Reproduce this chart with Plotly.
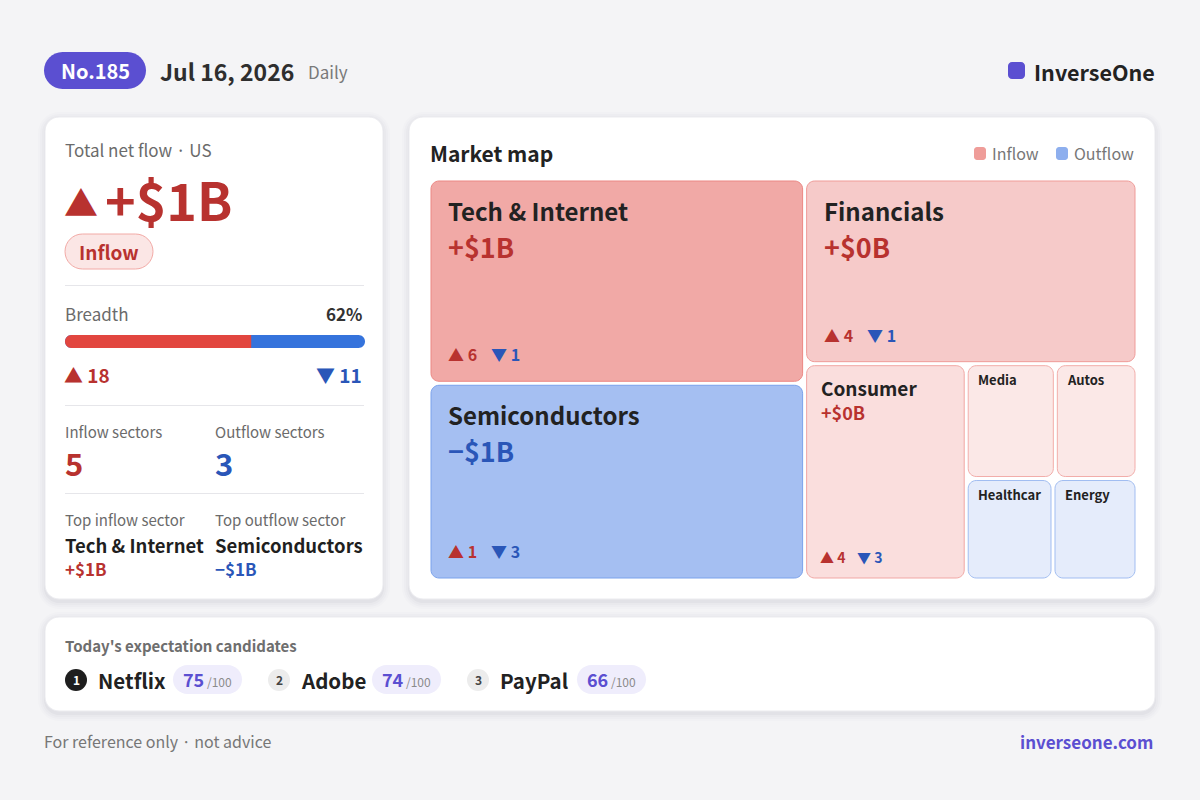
import plotly.graph_objects as go

# ---------------- data ----------------
issue_no = 185
report_date = "Jul 16, 2026"
report_freq = "Daily"
brand = "InverseOne"
brand_site = "inverseone.com"
region = "US"

sectors = ["Tech & Internet", "Semiconductors", "Financials", "Consumer",
           "Media", "Autos", "Healthcare", "Energy"]
tile_size = [27.0, 26.0, 21.6, 12.3, 3.6, 3.3, 3.1, 3.0]
net_flow_b = [1.45, -1.20, 0.45, 0.10, 0.01, 0.01, -0.01, -0.01]
up_counts = [6, 1, 4, 4, 1, 1, 1, 0]
down_counts = [1, 3, 1, 3, 1, 0, 1, 1]

candidates = ["Netflix", "Adobe", "PayPal"]
candidate_scores = [75, 74, 66]
score_max = 100

# ---------------- style ----------------
FONT = "Noto Sans CJK KR, Noto Sans, sans-serif"
BG = "#f4f4f6"
PURPLE = "#5b4fd1"
UP_TXT = "#b8322f"
DN_TXT = "#2a56b8"
UP_BAR = "#e2463f"
DN_BAR = "#3573dc"
MUTED = "#6b6b6b"
DARK = "#222222"
IN_BASE = (226, 76, 70)
OUT_BASE = (50, 110, 225)

shapes = []
annos = []


def rrect(x0, y0, x1, y1, r):
    r = min(r, (x1 - x0) / 2, (y1 - y0) / 2)
    k = 0.5523 * r
    return (f"M{x0+r},{y0} L{x1-r},{y0} C{x1-r+k},{y0} {x1},{y0+r-k} {x1},{y0+r} "
            f"L{x1},{y1-r} C{x1},{y1-r+k} {x1-r+k},{y1} {x1-r},{y1} "
            f"L{x0+r},{y1} C{x0+r-k},{y1} {x0},{y1-r+k} {x0},{y1-r} "
            f"L{x0},{y0+r} C{x0},{y0+r-k} {x0+r-k},{y0} {x0+r},{y0} Z")


def box(x0, y0, x1, y1, r, fill, line=None, lw=1):
    shapes.append(dict(type="path", path=rrect(x0, y0, x1, y1, r), xref="x", yref="y",
                       fillcolor=fill, layer="below",
                       line=dict(color=line if line else "rgba(0,0,0,0)", width=lw if line else 0)))


def card(x0, y0, x1, y1, r=14):
    for d, a in [(7, 0.010), (5, 0.014), (3, 0.020), (1, 0.030)]:
        box(x0 - d, y0 - d + 2, x1 + d, y1 + d + 3, r + d, f"rgba(30,30,60,{a})")
    box(x0, y0, x1, y1, r, "#ffffff", "#ebebef", 1)


def hline(x0, x1, y, color="#e6e6ea"):
    shapes.append(dict(type="line", x0=x0, x1=x1, y0=y, y1=y, xref="x", yref="y",
                       line=dict(color=color, width=1), layer="below"))


def txt(x, y, s, size, color, bold=False, anchor="left"):
    annos.append(dict(x=x, y=y - 1, xref="x", yref="y", text=s, showarrow=False,
                      xanchor=anchor, yanchor="middle",
                      font=dict(family=FONT, size=size, color=color, weight=700 if bold else 400)))


def fmt(v):
    sign = "+" if v >= 0 else "\u2212"
    return f"{sign}${abs(v):.0f}B"


def mix(base, t):
    return "rgb(%d,%d,%d)" % tuple(round(255 - t * (255 - c)) for c in base)


def esc(s):
    return s.replace("&", "&amp;")


# ---------------- header ----------------
box(44, 52, 146, 89, 18.5, PURPLE)
txt(95, 71, f"No.{issue_no}", 20, "#ffffff", True, "center")
txt(158, 72, report_date, 23, "#2e2e2e", True)
txt(306, 72, report_freq, 17, "#7a7a7a")
box(1008, 62, 1025, 79, 4, PURPLE)
txt(1032, 72, brand, 21.5, DARK, True)

# ---------------- left card ----------------
total = sum(net_flow_b)
ups = sum(up_counts)
downs = sum(down_counts)
breadth = ups / (ups + downs)
n_in = sum(1 for v in net_flow_b if v > 0)
n_out = sum(1 for v in net_flow_b if v < 0)
i_top = max(range(len(sectors)), key=lambda i: net_flow_b[i])
i_bot = min(range(len(sectors)), key=lambda i: net_flow_b[i])

card(45, 117, 383, 599)
txt(63, 150, f"Total net flow \u00b7 {region}", 17, MUTED)
tot_col = UP_TXT if total >= 0 else DN_TXT
txt(62, 202, "\u25b2" if total >= 0 else "\u25bc", 34, tot_col)
txt(103, 199, fmt(total), 52, tot_col, True)
box(65, 234, 153, 269, 17.5, "#fbe6e5", "#f2aaa6", 1)
txt(109, 252, "Inflow" if total >= 0 else "Outflow", 19, tot_col, True, "center")
hline(65, 364, 285.5)

txt(63, 314, "Breadth", 17, MUTED)
txt(364, 314, f"{breadth*100:.0f}%", 17, "#333333", True, "right")
bx0, bx1, by0, by1 = 65, 365, 335, 348
split = bx0 + breadth * (bx1 - bx0)
box(bx0, by0, bx1, by1, 6.5, DN_BAR)
shapes.append(dict(type="path", xref="x", yref="y", layer="below", fillcolor=UP_BAR,
                   line=dict(width=0),
                   path=(f"M{bx0+6.5},{by0} L{split},{by0} L{split},{by1} L{bx0+6.5},{by1} "
                         f"C{bx0+2.9},{by1} {bx0},{by1-2.9} {bx0},{by1-6.5} "
                         f"C{bx0},{by0+2.9} {bx0+2.9},{by0} {bx0+6.5},{by0} Z")))
txt(62, 375, f"\u25b2 {ups}", 19, UP_TXT, True)
txt(364, 375, f"\u25bc {downs}", 19, DN_TXT, True, "right")
hline(65, 364, 405.5)

txt(63, 432, "Inflow sectors", 15, MUTED)
txt(213, 432, "Outflow sectors", 15, MUTED)
txt(63, 463, str(n_in), 31, UP_TXT, True)
txt(213, 463, str(n_out), 31, DN_TXT, True)
hline(65, 364, 493.5)

txt(63, 520, "Top inflow sector", 15, MUTED)
txt(213, 520, "Top outflow sector", 15, MUTED)
txt(63, 546, esc(sectors[i_top]), 18.5, "#1f1f1f", True)
txt(213, 546, esc(sectors[i_bot]), 18.5, "#1f1f1f", True)
txt(63, 569, fmt(net_flow_b[i_top]), 17, UP_TXT, True)
txt(213, 569, fmt(net_flow_b[i_bot]), 17, DN_TXT, True)

# ---------------- market map card ----------------
card(409, 117, 1155, 599)
txt(428, 154, "Market map", 21, DARK, True)
box(974, 147, 986, 160, 3, mix(IN_BASE, 0.55))
txt(990, 154, "Inflow", 16, "#777777")
box(1056, 147, 1068, 160, 3, mix(OUT_BASE, 0.55))
txt(1072, 154, "Outflow", 16, "#777777")


def squarify(vals, x0, y0, x1, y1):
    """d3-style squarified treemap (ratio = 1); vals sorted descending."""
    n = len(vals)
    rects = [None] * n
    value = float(sum(vals))
    i0 = 0
    while i0 < n:
        dx, dy = x1 - x0, y1 - y0
        s = vals[i0]
        mn = mx = s
        alpha = max(dy / dx, dx / dy) / value
        beta = s * s * alpha
        min_ratio = max(mx / beta, beta / mn)
        i1 = i0 + 1
        while i1 < n:
            nv = vals[i1]
            s += nv
            mn, mx = min(mn, nv), max(mx, nv)
            beta = s * s * alpha
            r = max(mx / beta, beta / mn)
            if r > min_ratio:
                s -= nv
                break
            min_ratio = r
            i1 += 1
        if dx < dy:
            h = dy * s / value
            xx = x0
            for k in range(i0, i1):
                w = dx * vals[k] / s
                rects[k] = (xx, y0, xx + w, y0 + h)
                xx += w
            y0 += h
        else:
            w = dx * s / value
            yy = y0
            for k in range(i0, i1):
                h = dy * vals[k] / s
                rects[k] = (x0, yy, x0 + w, yy + h)
                yy += h
            x0 += w
        value -= s
        i0 = i1
    return rects


order = sorted(range(len(sectors)), key=lambda i: -tile_size[i])
rects_sorted = squarify([tile_size[i] for i in order], 429, 179, 1137, 580)
fmax = max(abs(v) for v in net_flow_b)
for rank, i in enumerate(order):
    X0, Y0, X1, Y1 = rects_sorted[rank]
    X0, Y0, X1, Y1 = X0 + 2, Y0 + 2, X1 - 2, Y1 - 2
    v = net_flow_b[i]
    base = IN_BASE if v >= 0 else OUT_BASE
    t = 0.11 + 0.37 * (abs(v) / fmax) ** 0.6
    box(X0, Y0, X1, Y1, 8, mix(base, t), mix(base, 0.6 * t + 0.38), 1)
    w, h = X1 - X0, Y1 - Y0
    vcol = UP_TXT if v >= 0 else DN_TXT
    if w >= 250 and h >= 150:
        txt(X0 + 15, Y0 + 30, esc(sectors[i]), 24, DARK, True)
        txt(X0 + 15, Y0 + 66, fmt(v), 27, vcol, True)
        txt(X0 + 15, Y1 - 26, f"\u25b2 {up_counts[i]}", 16, UP_TXT, True)
        txt(X0 + 58, Y1 - 26, f"\u25bc {down_counts[i]}", 16, DN_TXT, True)
    elif w >= 120:
        txt(X0 + 12, Y0 + 23, esc(sectors[i]), 19, DARK, True)
        txt(X0 + 12, Y0 + 47, fmt(v), 18, vcol, True)
        txt(X0 + 11, Y1 - 20, f"\u25b2 {up_counts[i]}", 14, UP_TXT, True)
        txt(X0 + 48, Y1 - 20, f"\u25bc {down_counts[i]}", 14, DN_TXT, True)
    else:
        max_chars = int((w - 14) / (0.54 * 13))
        txt(X0 + 8, Y0 + 15, esc(sectors[i][:max_chars]), 13, DARK, True)

# ---------------- candidates card ----------------
card(45, 617, 1155, 711)
txt(63, 646, "Today's expectation candidates", 15, "#6e6e6e", True)
group_x = [65, 268, 467]
pill_x = [173, 372, 577]
for k, (name, sc) in enumerate(zip(candidates, candidate_scores)):
    gx = group_x[k]
    dark = k == 0
    shapes.append(dict(type="circle", xref="x", yref="y", x0=gx, x1=gx + 22, y0=669, y1=691,
                       fillcolor="#1e1e1e" if dark else "#ececec", line=dict(width=0), layer="below"))
    txt(gx + 11, 680, str(k + 1), 12, "#ffffff" if dark else "#444444", True, "center")
    txt(gx + 31, 681, name, 20.5, DARK, True)
    px = pill_x[k]
    box(px, 665, px + 69, 694, 14.5, "#efedfc")
    txt(px + 34.5, 680,
        f"<b>{sc}</b><span style='font-size:12px;color:#8b8b8b;font-weight:400'> /{score_max}</span>",
        18, PURPLE, False, "center")

# ---------------- footer ----------------
txt(42, 742, "For reference only \u00b7 not advice", 16, "#777777")
txt(1155, 742, brand_site, 17, PURPLE, True, "right")

fig = go.Figure()
fig.update_layout(
    width=1200, height=800,
    margin=dict(l=0, r=0, t=0, b=0),
    paper_bgcolor=BG, plot_bgcolor=BG,
    xaxis=dict(range=[0, 1200], visible=False, fixedrange=True),
    yaxis=dict(range=[800, 0], visible=False, fixedrange=True),
    shapes=shapes, annotations=annos, showlegend=False,
)
fig.write_html("out.html", config={"displayModeBar": False},
               post_script="document.body.style.margin='0';document.body.style.overflow='hidden';")
